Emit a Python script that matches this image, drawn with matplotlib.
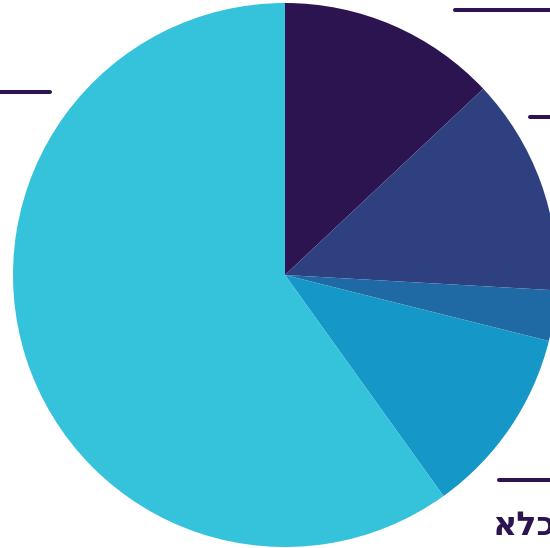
import matplotlib.pyplot as plt

# slice data (clockwise from top)
labels = ['a', 'b', 'c', 'd', 'כלא']
values = [13.0, 12.9, 3.0, 11.2, 59.9]
colors = ['#2c1450', '#2e4080', '#1f6aa5', '#1597c8', '#35c3dc']

fig = plt.figure(figsize=(5.5, 5.48), dpi=100)
ax = fig.add_axes([0, 0, 1, 1])

ax.pie(values, colors=colors, startangle=90, counterclock=False,
       radius=1, center=(0, 0), wedgeprops=dict(linewidth=0))

# map pixels -> data (center 285,275 ; radius 272 px)
def px(x, y):
    return (x - 285) / 272, (275 - y) / 272

ax.set_xlim(px(0, 0)[0], px(550, 0)[0])
ax.set_ylim(px(0, 548)[1], px(0, 0)[1])
ax.set_aspect('auto')
ax.axis('off')

# leader lines of the (cropped) labels
line_col = '#2c1450'
for (x0, y0), (x1, y1) in [((455, 10), (552, 10)),
                           ((530, 117), (552, 117)),
                           ((-2, 92), (50, 92)),
                           ((499, 480), (552, 480))]:
    a, b = px(x0, y0)
    c, d = px(x1, y1)
    ax.plot([a, c], [b, d], color=line_col, lw=2.9, solid_capstyle='round',
            clip_on=False)

# label text (visual order, reversed for RTL)
tx, ty = px(492, 535)
ax.text(tx, ty, labels[4][::-1], color=line_col, fontsize=24,
        fontweight='bold', ha='left', va='baseline', family='DejaVu Sans')

plt.savefig('out.png', dpi=100)
